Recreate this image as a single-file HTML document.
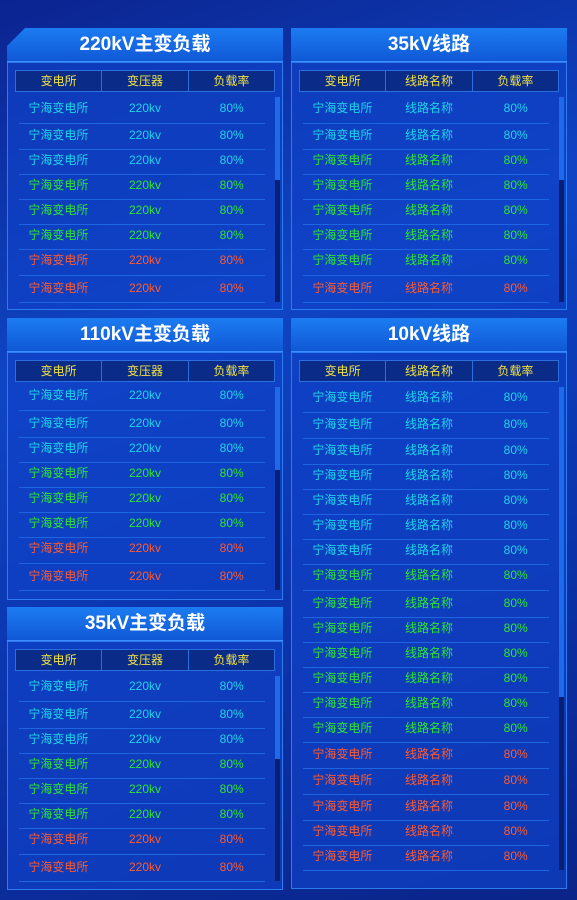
<!DOCTYPE html>
<html><head><meta charset="utf-8">
<style>
*{margin:0;padding:0;box-sizing:border-box}
body{width:577px;height:900px;overflow:hidden;background:#0a2590;font-family:"Liberation Sans","Noto Sans CJK SC",sans-serif;position:relative}
#bg{position:absolute;left:0;top:0;width:577px;height:900px;
background:linear-gradient(160deg,#0b2490 0%,#0f45c4 35%,#0c36b0 60%,#0a2488 100%)}
.panel{position:absolute;background:rgba(16,66,200,0.7);border:1px solid #2a7cf0}
.title{position:absolute;height:34px;background:linear-gradient(180deg,#1c7cf2,#1058d6);color:#fff;font-weight:bold;font-size:19px;text-align:center;line-height:34px;border-bottom:1px solid #3a8cff}
.hdr{position:absolute;height:22px;background:#0a2c88;border:1px solid #2a6ee0;display:flex}
.hdr div{flex:1;color:#f0e040;font-size:12px;text-align:center;line-height:20px;border-right:1px solid #2a6ee0}
.hdr div:last-child{border-right:none}
.row{position:absolute;font-size:12px;display:flex;height:20px;line-height:20px}
.row div{flex:1;text-align:center}
.sep{position:absolute;height:1px;background:#1d66e0}
.track{position:absolute;width:5px;background:#0a1f70}
.thumb{position:absolute;width:5px;background:#1e6ae8}
.c{color:#1fd4e8}.g{color:#2ee62e}.r{color:#ff5a2c}
</style></head><body>
<div id="bg"></div>
<div id="root"></div>
<script>
const panels=[
 {name:'panel-220kv-transformer',title:'220kV主变负载',x:7,y:28,w:276,h:282,cols:['变电所','变压器','负载率'],mid:'220kv',rows:[108,135,160,185,210,235,260,288],colors:'cccgggrr',thumb:83,slant:true},
 {name:'panel-35kv-line',title:'35kV线路',x:291,y:28,w:276,h:282,cols:['变电所','线路名称','负载率'],mid:'线路名称',rows:[108,135,160,185,210,235,260,288],colors:'ccgggggr',thumb:83},
 {name:'panel-110kv-transformer',title:'110kV主变负载',x:7,y:318,w:276,h:282,cols:['变电所','变压器','负载率'],mid:'220kv',rows:[395,423,448,473,498,523,548,576],colors:'cccgggrr',thumb:83},
 {name:'panel-35kv-transformer',title:'35kV主变负载',x:7,y:607,w:276,h:283,cols:['变电所','变压器','负载率'],mid:'220kv',rows:[686,714,739,764,789,814,839,867],colors:'cccgggrr',thumb:83},
 {name:'panel-10kv-line',title:'10kV线路',x:291,y:318,w:276,h:571,cols:['变电所','线路名称','负载率'],mid:'线路名称',rows:[397,424,450,475,500,525,550,575,603,628,653,678,703,728,754,780,806,831,856],colors:'ccccccc'+'ggggggg'+'rrrrr',thumb:310}
];
const root=document.getElementById('root');
function mk(cls,st,parent){const d=document.createElement('div');d.className=cls;Object.assign(d.style,st);(parent||root).appendChild(d);return d;}
panels.forEach(p=>{
 const pn=mk('panel',{left:p.x+'px',top:(p.y+34)+'px',width:p.w+'px',height:(p.h-34)+'px'});
 
 
 const t=mk('title',{left:p.x+'px',top:p.y+'px',width:p.w+'px'});
 if(p.slant){t.style.clipPath='polygon(18px 0,100% 0,100% 100%,0 100%,0 18px)';}
 t.textContent=p.title;
 
 
 const hy=p.y+42;
 const h=mk('hdr',{left:(p.x+8)+'px',top:hy+'px',width:(p.w-16)+'px'});
 
 
 p.cols.forEach(c=>{const d=document.createElement('div');d.textContent=c;h.appendChild(d);});
 const top=hy+27;
 const tr=mk('track',{left:(p.x+268)+'px',top:top+'px',height:(p.rows[p.rows.length-1]+14-top)+'px'});
 
 
 const th=mk('thumb',{left:(p.x+268)+'px',top:top+'px',height:p.thumb+'px'});
 
 
 p.rows.forEach((ry,i)=>{
  const r=mk('row '+p.colors[i],{left:(p.x+8)+'px',top:(ry-10)+'px',width:(p.w-16)+'px'});
  
  
  ['宁海变电所',p.mid,'80%'].forEach(v=>{const d=document.createElement('div');d.textContent=v;r.appendChild(d);});
  const nxt=i<p.rows.length-1?(ry+p.rows[i+1])/2+1:ry+14;
  const s=mk('sep',{left:(p.x+12)+'px',top:nxt+'px',width:(p.w-30)+'px'});
  
  
 });
});
</script>
</body></html>
